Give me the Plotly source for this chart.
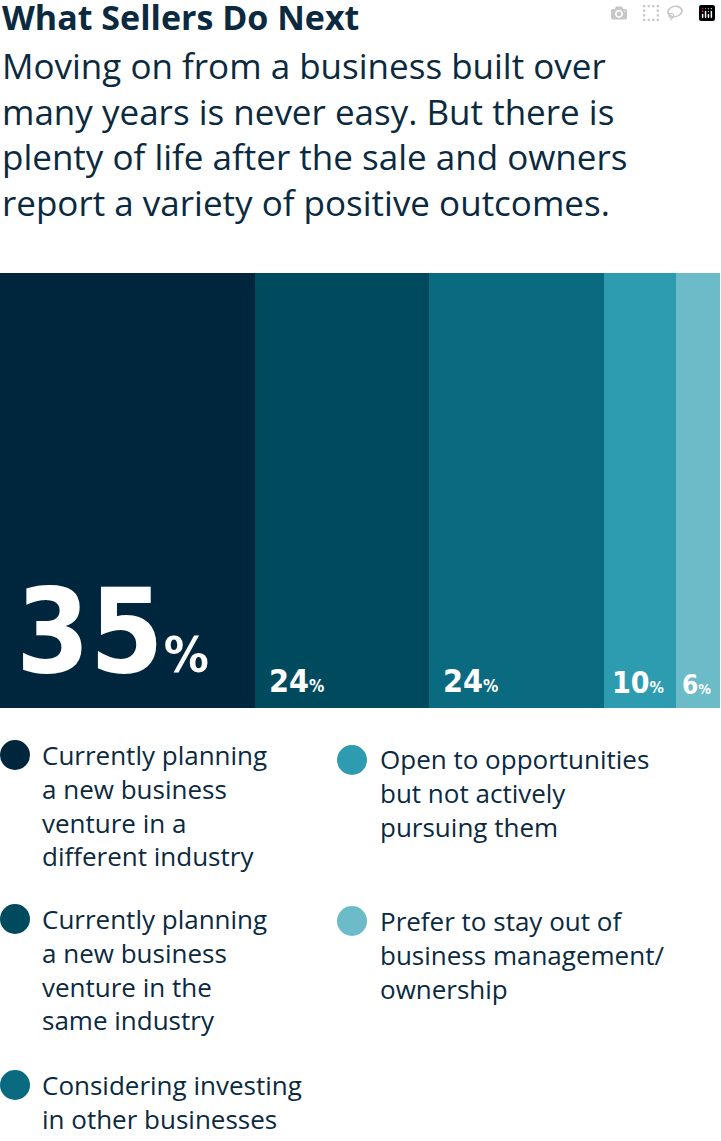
import plotly.graph_objects as go

W, H = 721, 1141

shares = [35, 24, 24, 10, 6]
colors = ["#00263e", "#004a5e", "#0a6a80", "#2e9cb0", "#6bbcc8"]
labels = [
    "Currently planning<br>a new business<br>venture in a<br>different industry",
    "Currently planning<br>a new business<br>venture in the<br>same industry",
    "Considering investing<br>in other businesses",
    "Open to opportunities<br>but not actively<br>pursuing them",
    "Prefer to stay out of<br>business management/<br>ownership",
]
title = "What Sellers Do Next"
subtitle = ("Moving on from a business built over<br>many years is never easy. But there is<br>"
            "plenty of life after the sale and owners<br>report a variety of positive outcomes.")

def py(px):
    return 1 - px / H

fig = go.Figure()
for v, c in zip(shares, colors):
    fig.add_trace(go.Bar(x=[v], y=[0], orientation="h", marker=dict(color=c, line_width=0),
                         hoverinfo="none"))

fig.update_layout(
    barmode="stack", bargap=0, showlegend=False,
    width=W, height=H, margin=dict(l=0, r=0, t=0, b=0),
    paper_bgcolor="white", plot_bgcolor="white",
    font=dict(family="Open Sans, Roboto, sans-serif", color="#0b2a40"),
    xaxis=dict(domain=[0, 720 / W], range=[0, sum(shares)], visible=False, fixedrange=True),
    yaxis=dict(domain=[py(708), py(273)], range=[-0.5, 0.5], visible=False, fixedrange=True),
)

ann = []
ann.append(dict(x=0.0, y=py(-8), xref="paper", yref="paper", xanchor="left", yanchor="top",
                text="<b>" + title + "</b>", showarrow=False, font=dict(size=34, color="#0b2a40")))
ann.append(dict(x=0.0, y=py(40), xref="paper", yref="paper", xanchor="left", yanchor="top",
                align="left", text=subtitle, showarrow=False,
                font=dict(size=35, color="#0b2a40")))

# big percentage labels inside bars
sizes = [(118, 50, 14), (32, 17, 12), (32, 17, 12), (30, 16, 6), (26, 14, 4)]
cum = 0
for v, (big, small, shift) in zip(shares, sizes):
    ann.append(dict(x=cum, xref="x", xshift=shift, y=py(702), yref="paper",
                    xanchor="left", yanchor="bottom", showarrow=False,
                    text=f"<b>{v}<span style='font-size:{small}px'>%</span></b>",
                    font=dict(size=big, color="white",
                              family="DejaVu Sans Condensed, Liberation Sans Narrow, sans-serif")))
    cum += v

# legend
legend_pos = [(15, 755, 40, 741), (15, 919, 40, 905), (15, 1085, 40, 1071),
              (352, 760, 378, 745), (352, 921, 378, 907)]
shapes = []
for (cx, cy, tx, ty), c, lab in zip(legend_pos, colors, labels):
    r = 15
    shapes.append(dict(type="circle", xref="paper", yref="paper",
                       x0=(cx - r) / W, x1=(cx + r) / W, y0=py(cy + r), y1=py(cy - r),
                       fillcolor=c, line_width=0))
    ann.append(dict(x=tx / W, y=py(ty - 6), xref="paper", yref="paper", xanchor="left",
                    yanchor="top", align="left", showarrow=False, text=lab,
                    font=dict(size=26, color="#0b2a40")))

fig.update_layout(annotations=ann, shapes=shapes)
fig.write_html("out.html", post_script="document.body.style.margin='0';")
